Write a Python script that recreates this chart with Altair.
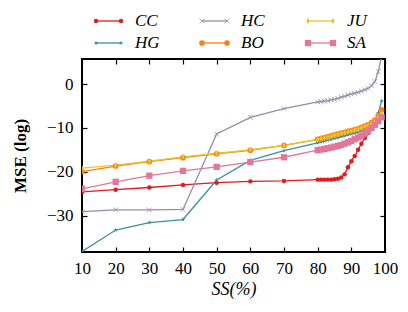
import altair as alt
import pandas as pd

# ---------------- data ----------------
SS = [10, 20, 30, 40, 50, 60, 70,
      80, 81, 82, 83, 84, 85, 86, 87, 88, 89,
      90, 91, 92, 93, 94, 95, 96, 97, 98, 99]

CC = [-24.6, -24.1, -23.6, -23.0, -22.5, -22.2, -22.1,
      -21.8, -21.8, -21.8, -21.8, -21.8, -21.7, -21.6, -21.3, -20.6, -19.0,
      -17.6, -16.4, -15.0, -13.6, -12.3, -11.1, -10.1, -9.3, -8.4, -7.5]
HG = [-38.2, -33.3, -31.6, -30.9, -21.9, -17.4, -15.2,
      -13.4, -13.2, -13.0, -12.8, -12.6, -12.4, -12.2, -12.0, -11.8, -11.6,
      -11.4, -11.2, -11.0, -10.7, -10.4, -10.0, -9.4, -8.4, -6.6, -3.8]
HC = [-29.1, -28.7, -28.7, -28.6, -11.4, -7.6, -5.6,
      -4.1, -4.0, -3.9, -3.8, -3.6, -3.5, -3.3, -3.0, -2.8, -2.5,
      -2.3, -2.1, -1.9, -1.6, -1.3, -1.0, -0.4, 0.6, 2.8, 6.5]
BO = [-20.0, -18.7, -17.7, -16.8, -15.9, -15.1, -14.0,
      -12.6, -12.4, -12.2, -12.0, -11.8, -11.6, -11.4, -11.2, -11.0, -10.8,
      -10.6, -10.4, -10.2, -9.9, -9.6, -9.3, -8.8, -8.2, -7.2, -5.9]
JU = [-19.2, -18.5, -17.6, -16.6, -15.8, -15.0, -14.0,
      -12.7, -12.5, -12.3, -12.1, -11.9, -11.7, -11.5, -11.3, -11.1, -10.9,
      -10.7, -10.5, -10.3, -10.0, -9.7, -9.4, -9.0, -8.5, -7.6, -6.6]
SA = [-23.9, -22.3, -20.9, -19.8, -18.9, -17.8, -16.7,
      -15.1, -14.95, -14.8, -14.65, -14.5, -14.3, -14.1, -13.9, -13.6, -13.3,
      -13.0, -12.6, -12.2, -11.8, -11.3, -10.7, -10.0, -9.3, -8.5, -7.6]

SERIES = ["CC", "HG", "HC", "BO", "JU", "SA"]   # drawing + legend (column-major) order
VALUES = [CC, HG, HC, BO, JU, SA]
X_TICKS = [10, 20, 30, 40, 50, 60, 70, 80, 90, 100]
Y_TICKS = [0, -10, -20, -30]

# ---------------- styles ----------------
COLORS = {"CC": "#e41a1c", "HG": "#3d9199", "HC": "#9a8aa5",
          "BO": "#ff7f0e", "JU": "#e6c62f", "SA": "#e2779a"}
STAR = ("M0,-1L0.2245,-0.309L0.951,-0.309L0.363,0.118L0.588,0.809L0,0.382"
        "L-0.588,0.809L-0.363,0.118L-0.951,-0.309L-0.2245,-0.309Z")
THIN_DIAMOND = "M0,-1L0.6,0L0,1L-0.6,0Z"
CROSS = "M-1,-1L1,1M-1,1L1,-1"
SHAPES = {"CC": "circle", "HG": STAR, "HC": CROSS, "BO": "circle",
          "JU": THIN_DIAMOND, "SA": "square"}
SIZES = {"CC": 20, "HG": 40, "HC": 22, "BO": 42, "JU": 50, "SA": 25}

SERIF = "Liberation Serif, serif"

rows = []
for name, vals in zip(SERIES, VALUES):
    for s, v in zip(SS, vals):
        rows.append({"SS": s, "MSE": v, "series": name, "marker": name})
df = pd.DataFrame(rows)

# legend table: 3 columns x 2 rows, filled column by column
leg_df = pd.DataFrame({
    "series": SERIES,
    "marker": SERIES,
    "col": [i // 2 for i in range(len(SERIES))],
    "row": [i % 2 for i in range(len(SERIES))],
})

cscale = alt.Scale(domain=SERIES, range=[COLORS[k] for k in SERIES])
shape_scale = alt.Scale(domain=SERIES, range=[SHAPES[k] for k in SERIES])
size_scale = alt.Scale(domain=SERIES, range=[SIZES[k] for k in SERIES])
xscale = alt.Scale(domain=[10, 100], nice=False, zero=False)
yscale = alt.Scale(domain=[-38.3, 5.7], nice=False, zero=False)
COLOR = alt.Color("series:N", scale=cscale, legend=None)

tick_common = dict(tickSize=5, offset=-5, domain=False, grid=False,
                   tickColor="black", tickWidth=1.2)
x_axis = alt.Axis(orient="bottom", values=X_TICKS, labelFont=SERIF, labelFontSize=17,
                  labelColor="black", labelPadding=8, labelFlush=False,
                  title="SS(%)", titleFont=SERIF, titleFontSize=18, titleFontStyle="italic",
                  titleFontWeight="normal", titleColor="black", titlePadding=4,
                  **tick_common)
y_axis = alt.Axis(orient="left", values=Y_TICKS, labelFont=SERIF, labelFontSize=17,
                  labelColor="black", labelPadding=9, labelFlush=False,
                  title="MSE (log)", titleFont=SERIF, titleFontSize=17,
                  titleFontWeight="bold", titleColor="black", titlePadding=17,
                  **tick_common)
x_top = alt.Axis(orient="top", values=X_TICKS, labels=False, title=None, **tick_common)
y_right = alt.Axis(orient="right", values=Y_TICKS, labels=False, title=None, **tick_common)

base = alt.Chart(df)

lines = base.mark_line(strokeWidth=1.3, clip=True).encode(
    x=alt.X("SS:Q", scale=xscale, axis=x_axis),
    y=alt.Y("MSE:Q", scale=yscale, axis=y_axis),
    color=COLOR,
    detail="series:N",
)
XP = alt.X("SS:Q", scale=xscale, axis=None)
YP = alt.Y("MSE:Q", scale=yscale, axis=None)

filled_pts = base.transform_filter("datum.series !== 'HC'").mark_point(
    filled=True, opacity=1, clip=True, strokeWidth=0.6).encode(
    x=XP, y=YP, color=COLOR,
    shape=alt.Shape("marker:N", scale=shape_scale, legend=None),
    size=alt.Size("marker:N", scale=size_scale, legend=None),
)

hc_pts = base.transform_filter("datum.series === 'HC'").mark_point(
    filled=False, opacity=1, clip=True, strokeWidth=0.8, shape=CROSS, size=22).encode(
    x=XP, y=YP, color=COLOR,
)

frame_axes = base.mark_point(opacity=0).encode(
    x=alt.X("SS:Q", scale=xscale, axis=x_top),
    y=alt.Y("MSE:Q", scale=yscale, axis=y_right),
)

# ---------------- hand-built legend above the plot ----------------
LX = alt.Scale(domain=[0, 3], range=[14, 332], nice=False, zero=False)
LY = alt.Scale(domain=[0, 1], range=[-38, -16], nice=False, zero=False)
leg = alt.Chart(leg_df).transform_calculate(col_end="datum.col + 25 / 106")

leg_line = leg.mark_rule(strokeWidth=1.3, clip=False).encode(
    x=alt.X("col:Q", scale=LX, axis=None),
    x2="col_end:Q",
    y=alt.Y("row:Q", scale=LY, axis=None),
    color=COLOR,
)
leg_pts = []
for field in ["col", "col_end"]:
    leg_pts.append(leg.transform_filter("datum.series !== 'HC'").mark_point(
        filled=True, opacity=1, clip=False, strokeWidth=0.6).encode(
        x=alt.X(f"{field}:Q", scale=LX, axis=None),
        y=alt.Y("row:Q", scale=LY, axis=None),
        color=COLOR,
        shape=alt.Shape("marker:N", scale=shape_scale, legend=None),
        size=alt.Size("marker:N", scale=size_scale, legend=None),
    ))
    leg_pts.append(leg.transform_filter("datum.series === 'HC'").mark_point(
        filled=False, opacity=1, clip=False, strokeWidth=0.8, shape=CROSS, size=22).encode(
        x=alt.X(f"{field}:Q", scale=LX, axis=None),
        y=alt.Y("row:Q", scale=LY, axis=None),
        color=COLOR,
    ))
leg_text = leg.mark_text(align="left", baseline="middle", dx=14, font=SERIF,
                         fontSize=17, fontStyle="italic", color="black").encode(
    x=alt.X("col_end:Q", scale=LX, axis=None),
    y=alt.Y("row:Q", scale=LY, axis=None),
    text="series:N",
)

chart = (
    alt.layer(lines, hc_pts, filled_pts, frame_axes, leg_line, *leg_pts, leg_text)
    .resolve_scale(x="independent", y="independent")
    .resolve_axis(x="independent", y="independent")
    .properties(
        width=303, height=193,
        autosize=alt.AutoSizeParams(type="none"),
        padding={"left": 74, "top": 51, "right": 15, "bottom": 52},
        background="white",
    )
    .configure_view(stroke="black", strokeWidth=2)
)

chart.save("out.html", embed_options={"renderer": "svg", "actions": False})
